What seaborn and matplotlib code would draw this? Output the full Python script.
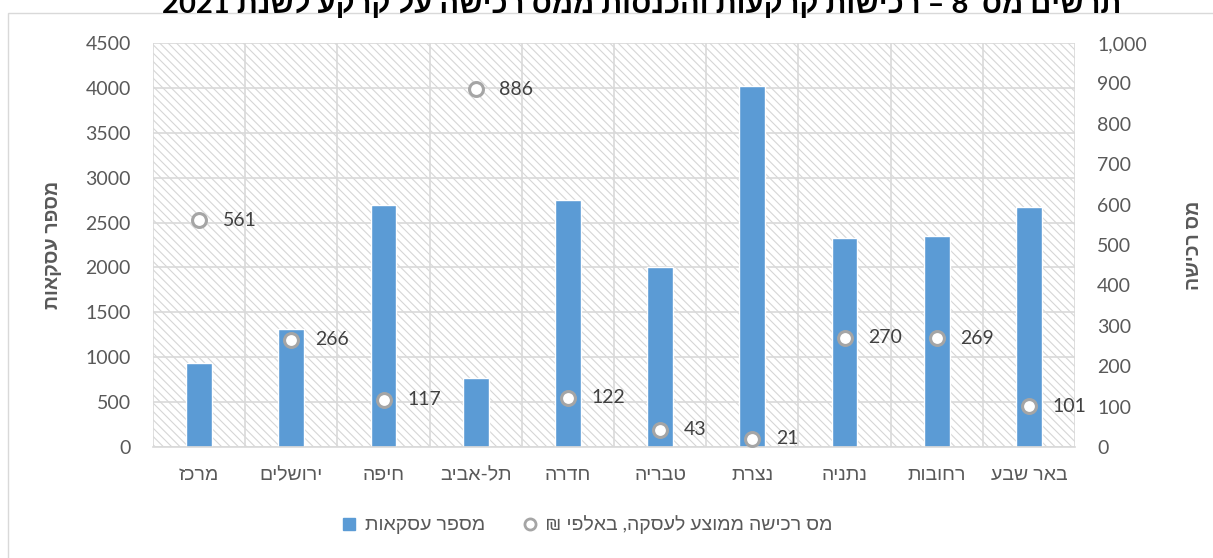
import re
import numpy as np
import pandas as pd
import matplotlib
matplotlib.use("Agg")
import matplotlib.pyplot as plt
import seaborn as sns
from matplotlib.patches import Rectangle
from matplotlib.lines import Line2D
from matplotlib.ticker import MultipleLocator, FuncFormatter

# ערים לפי הסדר בגיליון (מימין לשמאל בתרשים)
cities = ["באר שבע", "רחובות", "נתניה", "נצרת", "טבריה", "חדרה", "תל-אביב", "חיפה", "ירושלים", "מרכז"]
deals = [2670, 2350, 2330, 4020, 2000, 2750, 770, 2700, 1310, 940]
avg_tax = [101, 269, 270, 21, 43, 122, 886, 117, 266, 561]

title = "תרשים מס' 8 – רכישות קרקעות והכנסות ממס רכישה על קרקע לשנת 2021"
deals_label = "מספר עסקאות"
tax_label = "מס רכישה ממוצע לעסקה, באלפי ₪"
tax_axis_label = "מס רכישה"


def rtl(s):
    # matplotlib has no bidi support: flip the text, keep the numbers readable
    r = s[::-1]
    return re.sub(r"\d+", lambda m: m.group(0)[::-1], r)


# the chart reads right to left, so the first city goes on the right
df = pd.DataFrame({"city": [rtl(c) for c in cities], "deals": deals, "tax": avg_tax})
df = df.iloc[::-1].reset_index(drop=True)

sns.set_style("white")
plt.rcParams["font.family"] = ["Lato", "Liberation Sans", "DejaVu Sans"]
plt.rcParams["hatch.color"] = "#d6d6d6"
plt.rcParams["hatch.linewidth"] = 0.8

W, H = 1213, 558
fig = plt.figure(figsize=(W / 100, H / 100), dpi=100)
ax = fig.add_axes([153 / W, 1 - 447 / H, 922 / W, 404 / H])

# hatched plot area
ax.add_patch(Rectangle((0, 0), 1, 1, transform=ax.transAxes, facecolor="white",
                       edgecolor="#d6d6d6", hatch="\\\\\\\\", linewidth=0, zorder=0.1))

sns.barplot(data=df, x="city", y="deals", color="#5b9bd5", saturation=1,
            width=0.28, ax=ax, zorder=2)

ax2 = ax.twinx()
sns.pointplot(data=df, x="city", y="tax", ax=ax2, linestyle="none", marker="o",
              color="#a5a5a5", markerfacecolor="white", markersize=10,
              markeredgewidth=2.2, errorbar=None, zorder=4)

for i, v in enumerate(df["tax"]):
    ax2.annotate(str(v), (i, v), xytext=(17, 0), textcoords="offset points",
                 ha="left", va="center", fontsize=14, color="#404040", zorder=5)

# axes
ax.set_xlim(-0.5, len(df) - 0.5)
ax.set_ylim(0, 4500)
ax.yaxis.set_major_locator(MultipleLocator(500))
ax2.set_ylim(0, 1000)
ax2.yaxis.set_major_locator(MultipleLocator(100))
ax2.yaxis.set_major_formatter(FuncFormatter(lambda v, p: f"{v:,.0f}"))

ax.set_xticks(np.arange(-0.5, len(df), 1), minor=True)
ax.set_axisbelow(True)
ax.grid(which="major", axis="y", color="#d9d9d9", linewidth=1.2)
ax.grid(which="minor", axis="x", color="#d9d9d9", linewidth=1.2)
ax2.grid(False)

for a in (ax, ax2):
    for s in a.spines.values():
        s.set_visible(False)
ax.spines["bottom"].set_visible(True)
ax.spines["bottom"].set_color("#d9d9d9")
ax.spines["bottom"].set_linewidth(1.2)

ax.tick_params(axis="y", length=0, pad=16, labelsize=14, labelcolor="#595959")
ax.tick_params(axis="x", which="major", length=0, pad=14, labelsize=14, labelcolor="#595959")
ax.tick_params(axis="x", which="minor", length=6, width=1.2, color="#d9d9d9")
ax2.tick_params(axis="y", length=0, pad=16, labelsize=14, labelcolor="#595959")

ax.set_xlabel("")
ax.set_ylabel(rtl(deals_label), fontsize=14, fontweight="bold", color="#595959")
ax.yaxis.set_label_coords(-0.0987, 0.5)
ax2.set_ylabel(rtl(tax_axis_label), fontsize=14, fontweight="bold", color="#595959", rotation=90)
ax2.yaxis.set_label_coords(1.119, 0.5)

# legend
handles = [
    Line2D([], [], marker="s", linestyle="none", color="#5b9bd5", markersize=8),
    Line2D([], [], marker="o", linestyle="none", markerfacecolor="white",
           markeredgecolor="#a5a5a5", markeredgewidth=2, markersize=8),
]
fig.legend(handles, [rtl(deals_label), rtl(tax_label)], loc="center",
           bbox_to_anchor=(586 / W, 1 - 525 / H), ncol=2, frameon=False,
           fontsize=14, labelcolor="#595959", handletextpad=0.3,
           columnspacing=1.8, handlelength=1)

# chart frame and title (title is cut by the top edge, as in the original)
fig.add_artist(Rectangle((8 / W, -0.1), 1.2, 1.1 - 13 / H, transform=fig.transFigure,
                         fill=False, edgecolor="#d9d9d9", linewidth=1))
fig.text(642 / W, 1 - 3 / H, rtl(title), ha="center", va="center",
         fontsize=21, fontweight="bold", color="black")

fig.savefig("out.png", dpi=100)
